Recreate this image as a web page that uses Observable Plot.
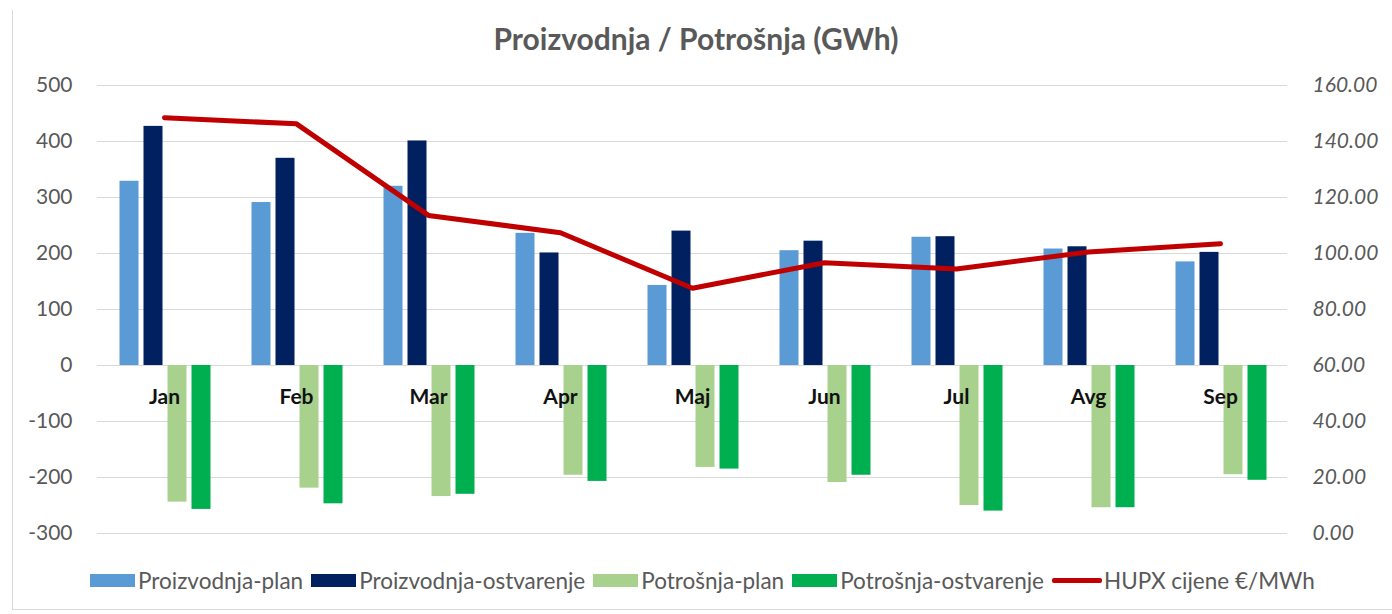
<!DOCTYPE html>
<html>
<head>
<meta charset="utf-8">
<script src="https://cdn.jsdelivr.net/npm/d3@7"></script>
<script src="https://cdn.jsdelivr.net/npm/@observablehq/plot@0.6"></script>
<style>
  html, body { margin: 0; padding: 0; background: #fff; }
  body { width: 1392px; height: 614px; position: relative; overflow: hidden; font-family: Lato, "Open Sans", sans-serif; }
  #frame { position: absolute; left: 12px; top: 10px; width: 1400px; height: 600px; border-left: 1.5px solid #d9d9d9; border-bottom: 1.5px solid #d9d9d9; box-sizing: border-box; }
  #title { position: absolute; left: 0; top: 0; width: 1392px; height: 70px; line-height: 76px; text-align: center; font-weight: 700; font-size: 30px; color: #595959; }
  #chart { position: absolute; left: 0; top: 70px; }
  #legend { position: absolute; left: 90px; top: 566px; height: 28px; display: flex; align-items: center; font-size: 22.5px; color: #595959; white-space: nowrap; }
  .sw { width: 45px; height: 13px; margin-right: 3px; }
  .ln { width: 50px; height: 5px; margin-right: 2px; border-radius: 2px; }
  .lab { margin-right: 8px; }
</style>
</head>
<body>
<div id="frame"></div>
<div id="title">Proizvodnja / Potrošnja (GWh)</div>
<div id="chart"></div>
<div id="legend"></div>
<script>
const months = ["Jan", "Feb", "Mar", "Apr", "Maj", "Jun", "Jul", "Avg", "Sep"];
const proizvodnjaPlan = [329, 291, 320, 236, 143, 205, 229, 208, 185];
const proizvodnjaOstvarenje = [427, 370, 401, 201, 240, 222, 230, 212, 202];
const potrosnjaPlan = [-244, -219, -234, -196, -182, -209, -250, -254, -195];
const potrosnjaOstvarenje = [-257, -247, -230, -207, -185, -196, -260, -254, -205];
const hupx = [148.5, 146.3, 113.6, 107.4, 87.6, 96.7, 94.5, 100.5, 103.5];
const leftTicks = [-300, -200, -100, 0, 100, 200, 300, 400, 500];
const rightTickLabels = ["0.00", "20.00", "40.00", "60.00", "80.00", "100.00", "120.00", "140.00", "160.00"];

const seriesNames = ["Proizvodnja-plan", "Proizvodnja-ostvarenje", "Potrošnja-plan", "Potrošnja-ostvarenje"];
const seriesValues = [proizvodnjaPlan, proizvodnjaOstvarenje, potrosnjaPlan, potrosnjaOstvarenje];
const seriesColors = ["#5b9bd5", "#002060", "#a9d18e", "#00b050"];
const seriesOffsets = [-35, -11, 13, 37];
const lineName = "HUPX cijene €/MWh";
const lineColor = "#c00000";

// Map right axis (0..160 €/MWh) onto left axis (-300..500 GWh)
const toLeft = v => v * 5 - 300;

const priceRows = months.map((m, i) => ({month: m, price: hupx[i]}));

const barMarks = seriesValues.map((vals, s) =>
  Plot.barY(months.map((m, i) => ({month: m, value: vals[i]})), {
    x: "month", y: "value", fill: seriesColors[s],
    insetLeft: 56.5, insetRight: 56.5, dx: seriesOffsets[s]
  })
);

const chart = Plot.plot({
  width: 1392,
  height: 490,
  marginTop: 15,
  marginBottom: 27,
  marginLeft: 97,
  marginRight: 105,
  style: {background: "transparent", fontFamily: "Lato, sans-serif"},
  x: {domain: months, padding: 0, axis: null},
  y: {domain: [-300, 500], axis: null},
  marks: [
    Plot.gridY(leftTicks, {stroke: "#d9d9d9", strokeOpacity: 1, strokeWidth: 1.2}),
    Plot.axisY(leftTicks, {anchor: "left", label: null, tickSize: 0, tickPadding: 25, fontSize: 21, fill: "#595959", tickFormat: d => String(d)}),
    Plot.axisY(leftTicks, {anchor: "right", label: null, tickSize: 0, tickPadding: 25, fontSize: 21, fontStyle: "italic", fill: "#595959", tickFormat: d => rightTickLabels[leftTicks.indexOf(d)]}),
    ...barMarks,
    Plot.line(priceRows, {x: "month", y: d => toLeft(d.price), stroke: lineColor, strokeWidth: 5, strokeLinecap: "round", strokeLinejoin: "round"}),
    Plot.text(months, {x: d => d, y: () => 0, dy: 32, fontSize: 21, fontWeight: "bold", fill: "#111"})
  ]
});
document.getElementById("chart").appendChild(chart);

const legend = document.getElementById("legend");
seriesNames.forEach((name, s) => {
  const sw = document.createElement("div");
  sw.className = "sw";
  sw.style.background = seriesColors[s];
  const lab = document.createElement("span");
  lab.className = "lab";
  lab.textContent = name;
  legend.appendChild(sw);
  legend.appendChild(lab);
});
const ln = document.createElement("div");
ln.className = "ln";
ln.style.background = lineColor;
const lab = document.createElement("span");
lab.textContent = lineName;
legend.appendChild(ln);
legend.appendChild(lab);
</script>
</body>
</html>
